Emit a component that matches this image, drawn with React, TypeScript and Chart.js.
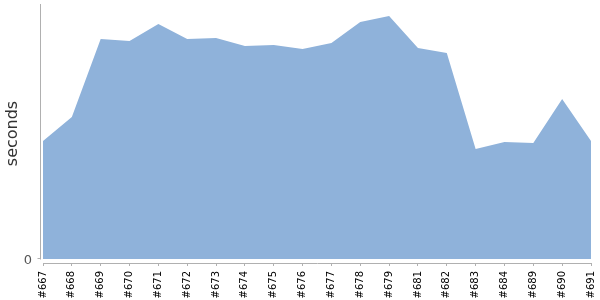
import React, { useEffect, useRef } from "react";
import { Chart, registerables } from "chart.js";

Chart.register(...registerables);

const categories = ["#667", "#668", "#669", "#670", "#671", "#672", "#673", "#674", "#675", "#676", "#677", "#678", "#679", "#681", "#682", "#683", "#684", "#689", "#690", "#691"];
const durations = [118, 142, 220, 218, 235, 220, 221, 213, 214, 210, 216, 237, 243, 211, 206, 110, 117, 116, 160, 118];
const yTickValues = [0];

const axisColor = "#b0b0b0";
const fillColor = "#8fb2da";

const yAxisPlugin = {
  id: "yAxisLine",
  afterDraw(chart: any) {
    const { ctx, chartArea } = chart;
    const y = chart.scales.y;
    const zero = y.getPixelForValue(0);
    const x = chartArea.left - 2.5;
    ctx.save();
    ctx.strokeStyle = axisColor;
    ctx.lineWidth = 1;
    ctx.beginPath();
    ctx.moveTo(x, chartArea.top);
    ctx.lineTo(x, Math.round(zero) + 0.5);
    ctx.moveTo(x - 3, Math.round(zero) - 0.5);
    ctx.lineTo(x, Math.round(zero) - 0.5);
    ctx.stroke();
    ctx.restore();
  },
};

export default function App() {
  const ref = useRef<HTMLCanvasElement | null>(null);
  useEffect(() => {
    document.body.style.margin = "0";
    const chart = new Chart(ref.current as HTMLCanvasElement, {
      type: "line",
      data: {
        labels: categories,
        datasets: [
          {
            data: durations,
            fill: "origin",
            backgroundColor: fillColor,
            borderColor: fillColor,
            borderWidth: 0,
            pointRadius: 0,
            tension: 0,
          },
        ],
      },
      options: {
        animation: false,
        responsive: false,
        maintainAspectRatio: false,
        layout: { padding: { top: 4, right: 9, left: 0, bottom: 0 } },
        plugins: { legend: { display: false }, tooltip: { enabled: false } },
        scales: {
          x: {
            type: "category",
            offset: false,
            grid: { display: true, drawOnChartArea: false, drawTicks: true, tickLength: 3, color: axisColor },
            border: { display: true, color: axisColor },
            ticks: {
              autoSkip: false,
              minRotation: 90,
              maxRotation: 90,
              padding: 5,
              color: "#000",
              font: { family: "DejaVu Sans", size: 10 },
            },
            afterFit: (s: any) => {
              s.height = 37;
              s.paddingLeft = 0;
              s.paddingRight = 0;
            },
          },
          y: {
            min: -4,
            max: 255,
            grid: { display: false, drawTicks: false },
            border: { display: false },
            afterBuildTicks: (s: any) => {
              s.ticks = yTickValues.map((v) => ({ value: v }));
            },
            ticks: {
              padding: 11,
              labelOffset: 1.5,
              color: "#555",
              font: { family: "DejaVu Sans", size: 13 },
            },
            title: {
              display: true,
              text: "seconds",
              color: "#333",
              font: { family: "DejaVu Sans", size: 16 },
              padding: { top: 3, bottom: 4 },
            },
            afterFit: (s: any) => {
              s.width = 43;
              s.paddingTop = 0;
              s.paddingBottom = 0;
            },
          },
        },
      },
      plugins: [yAxisPlugin],
    } as any);
    return () => chart.destroy();
  }, []);
  return <canvas ref={ref} width={600} height={300} style={{ display: "block" }} />;
}
